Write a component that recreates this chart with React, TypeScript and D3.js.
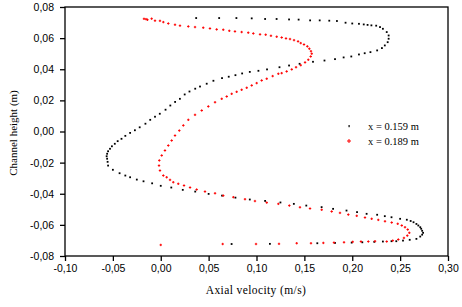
import { useRef, useEffect } from "react";
import * as d3 from "d3";

// axial velocity (m/s), channel height (m)
const profile159: [number, number][] = [
  [0.037, 0.0729], [0.061, 0.0729], [0.079, 0.0729], [0.095, 0.0727], [0.109, 0.0723], [0.121, 0.0723],
  [0.134, 0.072], [0.144, 0.0719], [0.156, 0.0714], [0.166, 0.0714], [0.176, 0.0712], [0.184, 0.071],
  [0.193, 0.0699], [0.2, 0.0694], [0.207, 0.0692], [0.212, 0.0688], [0.216, 0.0685], [0.22, 0.0682],
  [0.225, 0.068], [0.229, 0.0671], [0.232, 0.066], [0.236, 0.0639], [0.238, 0.0617], [0.238, 0.0596],
  [0.237, 0.0574], [0.234, 0.0553], [0.231, 0.0536], [0.226, 0.0521], [0.219, 0.051], [0.213, 0.0503],
  [0.207, 0.0495], [0.199, 0.0482], [0.191, 0.0476], [0.182, 0.0465], [0.171, 0.0456], [0.159, 0.0448],
  [0.145, 0.0435], [0.134, 0.0424], [0.124, 0.0413], [0.111, 0.0399], [0.102, 0.039], [0.093, 0.0383],
  [0.085, 0.0373], [0.078, 0.0362], [0.071, 0.0352], [0.064, 0.0343], [0.055, 0.0326], [0.048, 0.0307],
  [0.041, 0.0289], [0.036, 0.0275], [0.03, 0.0257], [0.025, 0.0238], [0.02, 0.021], [0.015, 0.019],
  [0.01, 0.0167], [0.005, 0.014], [-0.001, 0.0114], [-0.006, 0.0095], [-0.011, 0.0075], [-0.016, 0.005],
  [-0.022, 0.0027], [-0.027, 0.0008], [-0.032, -0.0009], [-0.037, -0.0028], [-0.041, -0.0047],
  [-0.045, -0.0062], [-0.048, -0.0079], [-0.051, -0.0095], [-0.053, -0.0111], [-0.055, -0.0127],
  [-0.056, -0.0143], [-0.0565, -0.0159], [-0.056, -0.0175], [-0.0555, -0.0195], [-0.055, -0.0219],
  [-0.05, -0.0246], [-0.043, -0.0268], [-0.037, -0.0283], [-0.032, -0.0294], [-0.025, -0.0309],
  [-0.018, -0.032], [-0.009, -0.0333], [0.0, -0.0349], [0.011, -0.036], [0.023, -0.0375], [0.036, -0.0386],
  [0.05, -0.0401], [0.064, -0.0412], [0.078, -0.0425], [0.093, -0.0437], [0.109, -0.0446], [0.125, -0.0456],
  [0.139, -0.0465], [0.152, -0.0476], [0.168, -0.0486], [0.18, -0.0497], [0.194, -0.0508], [0.205, -0.0518],
  [0.215, -0.0529], [0.226, -0.0535], [0.234, -0.0544], [0.241, -0.0551], [0.25, -0.0561], [0.257, -0.0567],
  [0.261, -0.0575], [0.264, -0.0583], [0.267, -0.0594], [0.269, -0.0604], [0.271, -0.0615], [0.272, -0.0625],
  [0.273, -0.0638], [0.274, -0.0651], [0.273, -0.0663], [0.271, -0.0675], [0.267, -0.069], [0.26, -0.0696],
  [0.253, -0.0701], [0.246, -0.0705], [0.241, -0.0705], [0.232, -0.0707], [0.223, -0.0709], [0.2105, -0.0712],
  [0.1994, -0.0714], [0.182, -0.0716], [0.1635, -0.0718], [0.114, -0.0722], [0.074, -0.0723],
];

const profile189: [number, number][] = [
  [-0.0175, 0.0724], [-0.0154, 0.0722], [-0.0139, 0.0718], [-0.0095, 0.0725], [-0.006, 0.0712],
  [-0.0008, 0.0711], [0.0027, 0.0703], [0.0079, 0.0694], [0.0149, 0.0686], [0.0201, 0.068], [0.0288, 0.0675],
  [0.0358, 0.0671], [0.0444, 0.0667], [0.0514, 0.0662], [0.0584, 0.0656], [0.0653, 0.0654], [0.0716, 0.0647],
  [0.0775, 0.0643], [0.0845, 0.0639], [0.0914, 0.0635], [0.0967, 0.063], [0.1037, 0.0624], [0.1096, 0.0622],
  [0.1151, 0.0615], [0.1211, 0.0609], [0.1263, 0.0604], [0.1308, 0.0598], [0.135, 0.0594], [0.1392, 0.0587],
  [0.1434, 0.0579], [0.1462, 0.0568], [0.1496, 0.0559], [0.1531, 0.0547], [0.1552, 0.0532], [0.1569, 0.0516],
  [0.1577, 0.05], [0.1566, 0.0482], [0.1541, 0.0461], [0.1507, 0.0444], [0.1462, 0.0426], [0.1413, 0.0413],
  [0.1368, 0.0399], [0.1315, 0.0386], [0.1263, 0.0375], [0.1228, 0.0371], [0.1169, 0.0356], [0.1107, 0.0339],
  [0.1054, 0.0328], [0.1002, 0.0311], [0.095, 0.0296], [0.0898, 0.0281], [0.0845, 0.0268], [0.0793, 0.0255],
  [0.0741, 0.0242], [0.0689, 0.0225], [0.0637, 0.021], [0.0567, 0.0188], [0.0497, 0.0161], [0.0428, 0.0135],
  [0.0358, 0.0107], [0.0288, 0.0075], [0.0236, 0.0039], [0.0194, 0.0006], [0.0149, -0.0026], [0.0114, -0.0058],
  [0.0079, -0.009], [0.0044, -0.0122], [0.001, -0.0154], [-0.0015, -0.0186], [-0.0018, -0.0219],
  [-0.0008, -0.0251], [0.0027, -0.0283], [0.0062, -0.0294], [0.0097, -0.0311], [0.0131, -0.0326],
  [0.0183, -0.0336], [0.0243, -0.0347], [0.0306, -0.036], [0.0375, -0.0373], [0.0462, -0.0386],
  [0.0567, -0.0397], [0.0653, -0.0412], [0.0758, -0.0422], [0.088, -0.0435], [0.0984, -0.0447],
  [0.1107, -0.0457], [0.1228, -0.0465], [0.1343, -0.0476], [0.1454, -0.0487], [0.1559, -0.0495],
  [0.1681, -0.0503], [0.1785, -0.0514], [0.1872, -0.0523], [0.1959, -0.0534], [0.2047, -0.0542],
  [0.2133, -0.0553], [0.2203, -0.0561], [0.2272, -0.0568], [0.2342, -0.0577], [0.2412, -0.0585],
  [0.2475, -0.0593], [0.2517, -0.0604], [0.2551, -0.0615], [0.2579, -0.063], [0.2596, -0.0651],
  [0.2575, -0.0669], [0.254, -0.0684], [0.2481, -0.0694], [0.2423, -0.0701], [0.236, -0.0707],
  [0.2238, -0.0705], [0.2168, -0.0707], [0.2091, -0.0707], [0.2005, -0.0709], [0.1914, -0.0712],
  [0.1809, -0.0714], [0.1698, -0.0716], [0.1569, -0.0718], [0.142, -0.0718], [0.1235, -0.0722],
  [0.0995, -0.0723], [0.0647, -0.0723], [0.0, -0.0729],
];

const xTicks = [-0.1, -0.05, 0, 0.05, 0.1, 0.15, 0.2, 0.25, 0.3];
const yTicks = [-0.08, -0.06, -0.04, -0.02, 0, 0.02, 0.04, 0.06, 0.08];
const legendLabels = ["x = 0.159 m", "x = 0.189 m"];

const width = 462;
const height = 307;
const left = 65, right = 448, top = 7, bottom = 256;

const locale = d3.formatLocale({ decimal: ",", thousands: ".", grouping: [3], currency: ["", ""], minus: "-" });
const fmt = locale.format(".2f");

export default function App() {
  const xAxisRef = useRef<SVGGElement>(null);
  const yAxisRef = useRef<SVGGElement>(null);
  const x = d3.scaleLinear([-0.1, 0.3], [left, right]);
  const y = d3.scaleLinear([-0.08, 0.08], [bottom, top]);

  useEffect(() => {
    const gx = d3.select(xAxisRef.current!);
    gx.selectAll("*").remove();
    gx.call(d3.axisBottom(x).tickValues(xTicks).tickFormat(d => fmt(d as number)).tickSize(5).tickPadding(4));
    const gy = d3.select(yAxisRef.current!);
    gy.selectAll("*").remove();
    gy.call(d3.axisLeft(y).tickValues(yTicks).tickFormat(d => fmt(d as number)).tickSize(5).tickPadding(6));
    [gx, gy].forEach(g => {
      g.select(".domain").remove();
      g.selectAll("line").attr("stroke", "#000").attr("stroke-width", 1.3);
      g.selectAll("text").attr("fill", "#000").style("font-family", "Liberation Sans, Arial, sans-serif").style("font-size", "10.5px");
    });
  });

  const cross = (cx: number, cy: number, r: number) => `M${cx - r},${cy}H${cx + r}M${cx},${cy - r}V${cy + r}`;

  return (
    <svg width={width} height={height} style={{ position: "absolute", left: 0, top: 0, background: "#fff" }}>
      <rect x={left} y={top} width={right - left} height={bottom - top} fill="none" stroke="#000" strokeWidth={1.3} />
      <g ref={xAxisRef} transform={`translate(0,${bottom})`} />
      <g ref={yAxisRef} transform={`translate(${left},0)`} />

      {profile159.map((d, i) => (
        <rect key={"b" + i} x={x(d[0]) - 0.9} y={y(d[1]) - 0.9} width={1.8} height={1.8} fill="#000" />
      ))}
      {profile189.map((d, i) => (
        <path key={"r" + i} d={cross(x(d[0]), y(d[1]), 1.2)} stroke="#ff0000" strokeWidth={1} fill="none" />
      ))}

      <text x={17} y={133} transform="rotate(-90,17,133)" textAnchor="middle"
        style={{ fontFamily: "Liberation Serif, Times New Roman, serif", fontSize: "11px" }}>Channel height (m)</text>
      <text x={256} y={294} textAnchor="middle"
        style={{ fontFamily: "Liberation Serif, Times New Roman, serif", fontSize: "11.5px", letterSpacing: "0.4px" }}>Axial velocity (m/s)</text>

      <g style={{ fontFamily: "Liberation Serif, Times New Roman, serif", fontSize: "10.5px" }}>
        <rect x={348.5} y={125} width={1.2} height={2.2} fill="#000" />
        <text x={368} y={129.5}>{legendLabels[0]}</text>
        <path d={cross(349, 141, 2)} stroke="#ff0000" strokeWidth={1} fill="none" />
        <text x={368} y={144.5}>{legendLabels[1]}</text>
      </g>
    </svg>
  );
}
